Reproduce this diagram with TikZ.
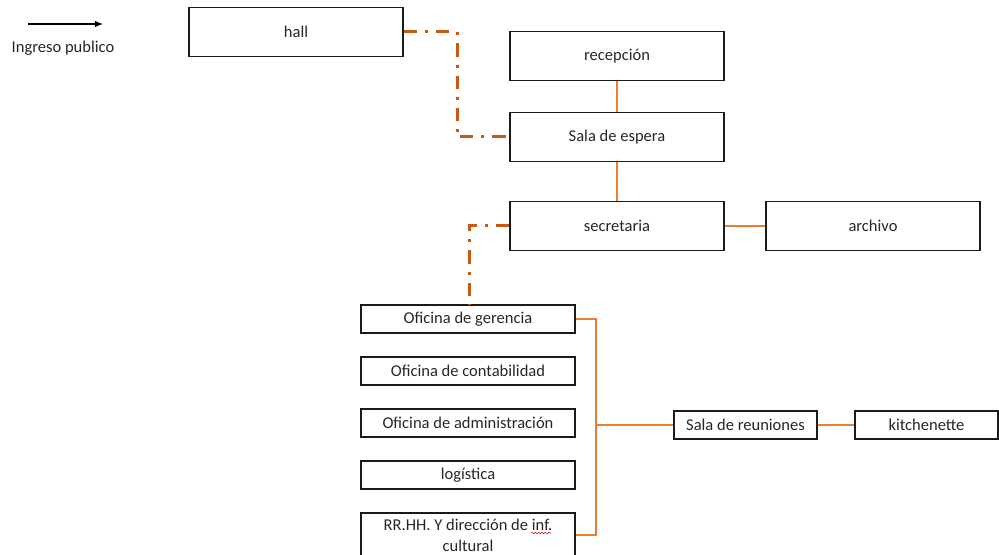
\documentclass[tikz,border=0pt]{standalone}
\usepackage{fontspec}
\setmainfont{Carlito}
\usetikzlibrary{decorations.pathmorphing,arrows.meta}
\definecolor{darkor}{HTML}{C55A11}
\definecolor{lightor}{HTML}{ED7D31}
\definecolor{boxline}{HTML}{1A1A1A}
\tikzset{
  txt/.style={font=\fontsize{12.4}{15.75}\selectfont, text=black!85},
  bigbox/.style={txt, draw=boxline, line width=1.1pt, inner sep=0pt, minimum width=160.5pt, minimum height=36.75pt},
  smallbox/.style={txt, draw=boxline, line width=1.1pt, inner sep=0pt, minimum width=160.5pt, minimum height=21pt},
  midbox/.style={txt, draw=boxline, line width=1.1pt, inner sep=0pt, minimum width=107.25pt, minimum height=21pt},
  dashlink/.style={draw=darkor, line width=2.25pt, dash pattern=on 10pt off 6pt on 2.2pt off 6pt},
  solidlink/.style={draw=lightor, line width=1.3pt},
}
\begin{document}
\begin{tikzpicture}[x=0.75pt,y=-0.75pt]
\useasboundingbox (0,0) rectangle (999,555);
\clip (0,0) rectangle (999,555);
% legend
\coordinate (la) at (28,24);
\coordinate (lb) at (103,24);
\draw[line width=1pt,-{Latex[length=6pt,width=5pt]}] (la) -- (lb);
\node[txt] (leg) at (63,48) {Ingreso publico};
% boxes
\node[bigbox] (hall) at (296,32) {hall};
\node[bigbox] (rec) at (617,56) {recepción};
\node[bigbox] (sala) at (617,137) {Sala de espera};
\node[bigbox] (sec) at (617,226) {secretaria};
\node[bigbox] (arch) at (873,226) {archivo};
\node[smallbox] (ger) at (468,319) {Oficina de gerencia};
\node[smallbox] (cont) at (468,371) {Oficina de contabilidad};
\node[smallbox] (adm) at (468,423) {Oficina de administración};
\node[smallbox] (log) at (468,475) {logística};
\node[txt, draw=boxline, line width=1.1pt, inner sep=0pt, minimum width=160.5pt, minimum height=33pt, align=center] (rr) at (468,535) {RR.HH. Y dirección de inf.\\cultural};
\node[midbox] (reu) at (745.5,425) {Sala de reuniones};
\node[midbox] (kit) at (926.5,425) {kitchenette};
% spellcheck squiggle
\coordinate (sq1) at (531,533);
\coordinate (sq2) at (551,533);
\draw[red!80!black, line width=0.4pt, decorate, decoration={snake, amplitude=0.5pt, segment length=2.5pt}] (sq1) -- (sq2);
% dashed links
\coordinate (h1) at (457,32);
\coordinate (s1) at (469,226);
\coordinate (g1) at (469,305);
\draw[dashlink] (hall.east) -- (h1) |- (sala.west);
\draw[dashlink] (sec.west) -- (s1) -- (g1);
% solid links
\draw[solidlink] (rec.south) -- (sala.north);
\draw[solidlink] (sala.south) -- (sec.north);
\draw[solidlink] (sec.east) -- (arch.west);
\coordinate (bt) at (596,319);
\coordinate (bb) at (596,535);
\coordinate (bm) at (596,425);
\draw[solidlink] (ger.east) -- (bt) -- (bb) -- (rr.east);
\draw[solidlink] (bm) -- (reu.west);
\draw[solidlink] (reu.east) -- (kit.west);
\end{tikzpicture}
\end{document}
